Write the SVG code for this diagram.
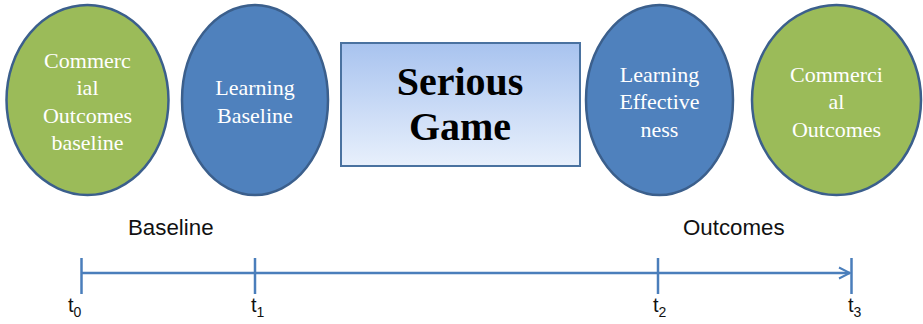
<svg xmlns="http://www.w3.org/2000/svg" width="923" height="324" viewBox="0 0 923 324">
<defs>
<linearGradient id="sg" x1="0" y1="0" x2="0" y2="1">
<stop offset="0" stop-color="#a8c3ef"/>
<stop offset="1" stop-color="#e8f0fc"/>
</linearGradient>
<marker id="arr" markerWidth="14" markerHeight="14" refX="12" refY="7" orient="auto" markerUnits="userSpaceOnUse">
<path d="M1,1.5 L12,7 L1,12.5" fill="none" stroke="#4a7ebb" stroke-width="2"/>
</marker>
</defs>
<style>
.green{fill:#9bbb59;stroke:#3b5f8c;stroke-width:2.5}
.blue{fill:#4f81bd;stroke:#3b5f8c;stroke-width:2.5}
.et{font-family:'Liberation Serif','Times New Roman',Tinos,Times,serif;font-size:22px;fill:#ffffff;text-anchor:middle}
.sg{font-family:'Liberation Serif','Times New Roman',Tinos,Times,serif;font-size:40px;font-weight:bold;fill:#000;text-anchor:middle}
.lab{font-family:'Liberation Sans',Arial,sans-serif;font-size:22.3px;fill:#111}
.tl{font-family:'Liberation Sans',Arial,sans-serif;font-size:20px;fill:#111}
.line{stroke:#4a7ebb;stroke-width:2.5;fill:none}
</style>
<g id="commercial-baseline">
<ellipse class="green" cx="87.5" cy="100" rx="81" ry="95"/>
<text class="et" x="87.5" y="68">Commerc</text>
<text class="et" x="87.5" y="95">ial</text>
<text class="et" x="87.5" y="122.5">Outcomes</text>
<text class="et" x="87.5" y="150">baseline</text>
</g>
<g id="learning-baseline">
<ellipse class="blue" cx="255" cy="100" rx="73" ry="95"/>
<text class="et" x="255" y="95">Learning</text>
<text class="et" x="255" y="122.5">Baseline</text>
</g>
<g id="serious-game">
<rect x="341" y="43" width="239" height="123" fill="url(#sg)" stroke="#4a72a0" stroke-width="2"/>
<text class="sg" x="460" y="95">Serious</text>
<text class="sg" x="460" y="140">Game</text>
</g>
<g id="learning-effectiveness">
<ellipse class="blue" cx="659.5" cy="100" rx="73.5" ry="95"/>
<text class="et" x="659.5" y="82">Learning</text>
<text class="et" x="659.5" y="109">Effective</text>
<text class="et" x="659.5" y="136.5">ness</text>
</g>
<g id="commercial-outcomes">
<ellipse class="green" cx="836.5" cy="100" rx="84.5" ry="95"/>
<text class="et" x="836.5" y="82">Commerci</text>
<text class="et" x="836.5" y="109">al</text>
<text class="et" x="836.5" y="136.5">Outcomes</text>
</g>
<g id="timeline">
<line class="line" x1="81.5" y1="273" x2="850" y2="273" marker-end="url(#arr)"/>
<line class="line" x1="81.5" y1="258" x2="81.5" y2="294"/>
<line class="line" x1="255" y1="258" x2="255" y2="294"/>
<line class="line" x1="658" y1="258" x2="658" y2="294"/>
<line class="line" x1="851.5" y1="258" x2="851.5" y2="294"/>
</g>
<g id="labels">
<text class="lab" x="128" y="235">Baseline</text>
<text class="lab" x="683" y="235">Outcomes</text>
<text class="tl" x="68" y="312">t<tspan font-size="14" dy="5">0</tspan></text>
<text class="tl" x="251" y="312">t<tspan font-size="14" dy="5">1</tspan></text>
<text class="tl" x="653" y="312">t<tspan font-size="14" dy="5">2</tspan></text>
<text class="tl" x="848" y="312">t<tspan font-size="14" dy="5">3</tspan></text>
</g>
</svg>
